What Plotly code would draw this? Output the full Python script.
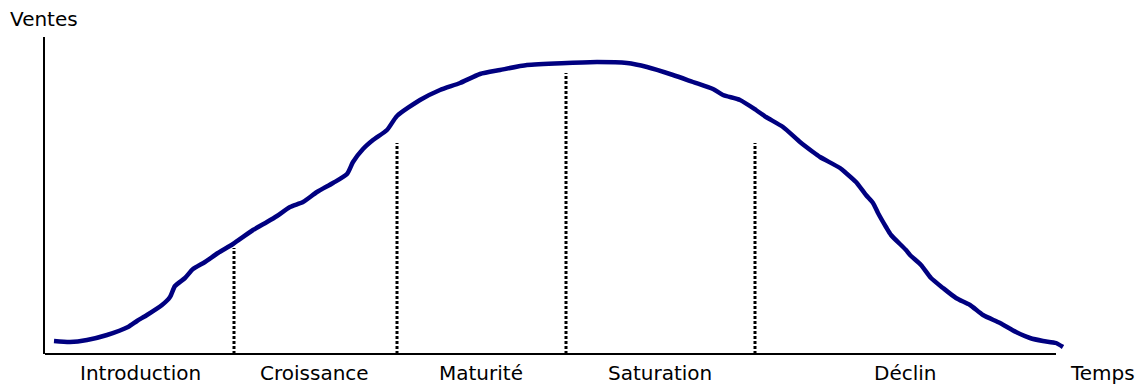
import plotly.graph_objects as go

# Product life cycle: sales (ventes) over time (temps)
temps = [9, 25, 42, 62, 83, 92, 102, 117, 125, 130, 140, 148, 160, 173, 188, 208,
         222, 232, 245, 258, 272, 288, 302, 308, 318, 328, 342, 352, 375, 395,
         415, 435, 455, 482, 522, 552, 582, 602, 628, 648, 668, 678, 695, 711,
         721, 738, 755, 768, 775, 795, 801, 811, 821, 828, 833, 841, 846, 861,
         865, 876, 886, 898, 911, 925, 938, 955, 971, 985, 998, 1011, 1018]
ventes = [13, 12, 14, 19, 27, 33, 39, 49, 57, 68, 76, 85, 92, 101, 110, 124,
          132, 138, 147, 152, 162, 171, 180, 192, 205, 214, 224, 238, 254, 264,
          271, 280, 284, 289, 291, 292, 291, 287, 279, 272, 265, 259, 254, 244,
          237, 227, 212, 202, 197, 186, 181, 172, 159, 151, 141, 127, 119, 104,
          99, 89, 76, 66, 56, 49, 39, 31, 22, 16, 13, 11, 7]

phase_bounds = [189, 352, 521, 710]
phase_tops = [106, 211, 281, 211]
phase_names = ["Introduction", "Croissance", "Maturité", "Saturation", "Déclin"]
phase_centers = [95, 269, 436, 615, 860]

AXIS_END = 1011   # where the time axis line stops
X_MAX = 1025      # a bit wider so the curve tail isn't clipped
Y_MAX = 317

fig = go.Figure()

# dotted separators between phases
for xb, top in zip(phase_bounds, phase_tops):
    fig.add_trace(go.Scatter(
        x=[xb, xb], y=[0, top], mode='lines',
        line=dict(color='black', width=3, dash='3px,2px'),
        hoverinfo='skip', showlegend=False,
    ))

fig.add_trace(go.Scatter(
    x=temps, y=ventes, mode='lines',
    line=dict(color='#000080', width=4.5, shape='spline', smoothing=0.6),
    showlegend=False,
))

# time axis line drawn by hand so it can stop before the curve ends
fig.add_shape(type='line', xref='paper', yref='paper',
              x0=0, x1=AXIS_END / X_MAX, y0=0, y1=0,
              line=dict(color='black', width=2))

txt_font = dict(family="DejaVu Sans, Arial, sans-serif", size=20, color='black')


def label(text, xd, yd):
    # data units -> paper coords so the text can sit outside the plot area
    fig.add_annotation(x=xd / X_MAX, y=yd / Y_MAX, text=text, showarrow=False,
                       xref='paper', yref='paper', xanchor='center',
                       yanchor='middle', font=txt_font)


for name, xc in zip(phase_names, phase_centers):
    label(name, xc, -19)

label("Temps", 1057, -19)
label("Ventes", -1, 335)

# page body has an 8px margin, so the figure is shrunk by that much
fig.update_layout(
    width=1135,
    height=377,
    margin=dict(l=37, r=73, t=29, b=31),
    plot_bgcolor='white',
    paper_bgcolor='white',
    xaxis=dict(range=[0, X_MAX], showgrid=False, zeroline=False,
               showticklabels=False, ticks='', showline=False),
    yaxis=dict(range=[0, Y_MAX], showgrid=False, zeroline=False,
               showticklabels=False, ticks='', showline=True,
               linecolor='black', linewidth=2),
)

fig.write_html("out.html")
